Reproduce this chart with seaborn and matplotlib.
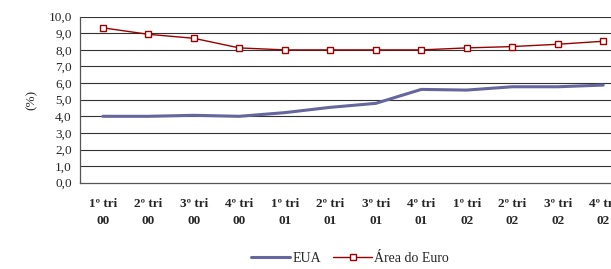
import matplotlib
matplotlib.use("Agg")
import matplotlib.pyplot as plt
import seaborn as sns
import numpy as np
import pandas as pd
from matplotlib.ticker import FuncFormatter, FixedLocator

# quarters on the x axis
quarters = ["1º tri\n00", "2º tri\n00", "3º tri\n00", "4º tri\n00",
            "1º tri\n01", "2º tri\n01", "3º tri\n01", "4º tri\n01",
            "1º tri\n02", "2º tri\n02", "3º tri\n02", "4º tri\n02"]
eua = [4.0, 4.0, 4.06, 4.0, 4.22, 4.54, 4.78, 5.62, 5.58, 5.78, 5.78, 5.88]
euro = [9.33, 8.94, 8.7, 8.12, 8.0, 8.0, 8.0, 8.0, 8.12, 8.2, 8.34, 8.52]

sns.set_style("white")
plt.rcParams["font.family"] = ["Liberation Serif", "DejaVu Serif"]

df = pd.DataFrame({"x": np.arange(len(quarters)), "EUA": eua, "Área do Euro": euro})

fig = plt.figure(figsize=(6.11, 2.69), dpi=100)
ax = fig.add_axes([80 / 611, 1 - 182.7 / 269, 546 / 611, 166 / 269])

for y in np.arange(1, 11):
    ax.axhline(y, color="#333333", lw=0.8, zorder=0)

sns.lineplot(data=df, x="x", y="EUA", ax=ax, color="#66669e", lw=2.2, label="EUA")
sns.lineplot(data=df, x="x", y="Área do Euro", ax=ax, color="#990000", lw=1.0,
             marker="s", markersize=4.5, markerfacecolor="white",
             markeredgecolor="#990000", markeredgewidth=1.0, label="Área do Euro")

ax.set_xlim(-0.5, len(quarters) - 0.5)
ax.set_ylim(0, 10)
ax.set_yticks(np.arange(0, 11))
ax.yaxis.set_major_formatter(FuncFormatter(lambda v, p: f"{v:.1f}".replace(".", ",")))
ax.set_xticks(np.arange(len(quarters)))
ax.set_xticklabels(quarters, fontweight="bold", fontsize=9.5, linespacing=1.55)
ax.xaxis.set_minor_locator(FixedLocator(np.arange(-0.5, len(quarters), 1.0)))
ax.tick_params(axis="x", which="major", length=0, pad=11)
ax.tick_params(axis="x", which="minor", length=4, width=0.8, color="#333333", direction="out")
ax.tick_params(axis="y", length=4, width=0.8, color="#333333", direction="out", labelsize=9.5, pad=2)
ax.set_xlabel("")
ax.set_ylabel("(%)", fontsize=9.5, labelpad=8)

for side in ["top", "right"]:
    ax.spines[side].set_visible(False)
for side in ["left", "bottom"]:
    ax.spines[side].set_color("#555555")
    ax.spines[side].set_linewidth(0.9)

handles, labels = ax.get_legend_handles_labels()
ax.legend_.remove()
fig.legend(handles, labels, loc="center", bbox_to_anchor=(350 / 611, 1 - 258 / 269),
           ncol=2, frameon=False, fontsize=10, handlelength=2.8,
           columnspacing=0.9, handletextpad=0.15)

fig.savefig("out.png", dpi=100)
